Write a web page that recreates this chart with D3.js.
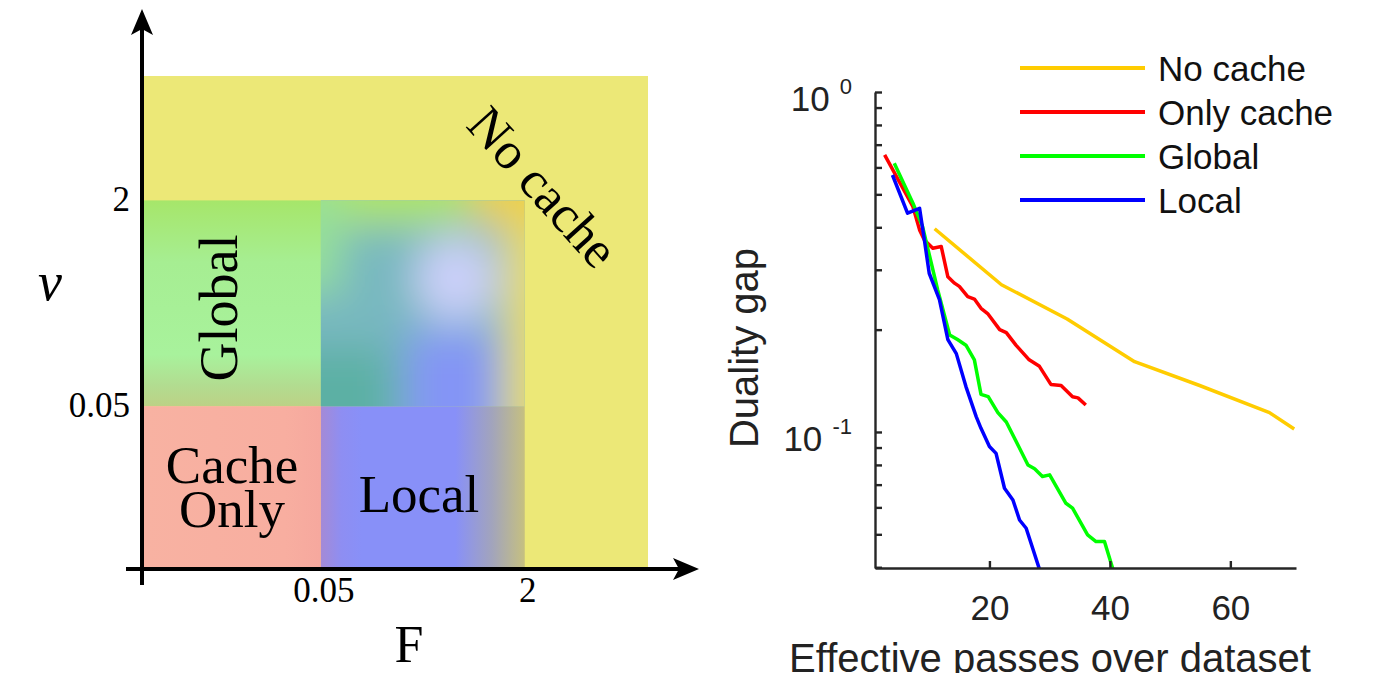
<!DOCTYPE html>
<html>
<head>
<meta charset="utf-8">
<script src="https://cdn.jsdelivr.net/npm/d3@7"></script>
<style>
body { margin: 0; background: #fff; }
svg { display: block; }
</style>
</head>
<body>
<svg id="chart" width="1394" height="673"></svg>
<script>
// ---- left panel: which strategy wins, by F and nu ----
const thresholdValues = [0.05, 2];
const thresholdLabels = ["0.05", "2"];
const fExtent = [0.002, 18.6];
const nuExtent = [0.0027, 18.6];
const regionNames = ["No cache", "Global", "Cache Only", "Local", "Mixed"];
const regionF = [[0.002, 18.6], [0.002, 0.05], [0.002, 0.05], [0.05, 2], [0.05, 2]];
const regionNu = [[0.0027, 18.6], [0.05, 2], [0.0027, 0.05], [0.0027, 0.05], [0.05, 2]];

// ---- right panel: duality gap vs effective passes ----
const seriesNames = ["No cache", "Only cache", "Global", "Local"];
const passesNoCache = [10.9, 22.0, 32.9, 44.1, 54.9, 66.5, 70.6];
const gapNoCache = [0.396, 0.271, 0.215, 0.161, 0.137, 0.114, 0.102];
const passesOnlyCache = [2.6, 7.3, 8.4, 9.2, 10.6, 12.0, 13.1, 14.2, 15.0, 16.4, 17.5, 18.6, 19.7, 21.7, 22.8, 24.4, 26.6, 28.3, 30.2, 31.9, 33.8, 34.7, 36.0];
const gapOnlyCache = [0.653, 0.460, 0.393, 0.367, 0.347, 0.351, 0.286, 0.274, 0.268, 0.250, 0.246, 0.231, 0.223, 0.200, 0.196, 0.180, 0.163, 0.156, 0.138, 0.137, 0.127, 0.126, 0.120];
const passesGlobal = [4.2, 7.3, 8.9, 11.4, 13.4, 14.7, 16.1, 17.5, 18.6, 19.8, 21.4, 22.8, 26.4, 27.5, 28.8, 30.0, 32.7, 33.8, 36.3, 37.7, 39.1, 40.5];
const gapGlobal = [0.617, 0.471, 0.402, 0.262, 0.193, 0.187, 0.180, 0.163, 0.129, 0.127, 0.114, 0.107, 0.080, 0.078, 0.074, 0.0748, 0.0617, 0.0597, 0.0498, 0.0476, 0.0476, 0.0395];
const passesLocal = [3.9, 6.4, 8.4, 9.2, 10.0, 11.7, 13.1, 14.5, 16.1, 17.8, 18.6, 20.0, 21.1, 22.5, 23.9, 25.0, 26.1, 28.3];
const gapLocal = [0.570, 0.440, 0.455, 0.367, 0.293, 0.245, 0.187, 0.170, 0.136, 0.111, 0.1025, 0.0906, 0.0865, 0.0683, 0.0631, 0.0551, 0.0521, 0.0395];
const xTicks = [20, 40, 60];
const yMajorTicks = [1, 0.1];
const yMajorExp = ["0", "-1"];
const yMinorTicks = [0.9, 0.8, 0.7, 0.6, 0.5, 0.4, 0.3, 0.2, 0.09, 0.08, 0.07, 0.06, 0.05, 0.04];

const svg = d3.select("#chart");
const defs = svg.append("defs");
const serif = "'Liberation Serif', 'DejaVu Serif', serif";
const sans = "'Liberation Sans', Arial, sans-serif";

// ================= left panel =================
const xL = d3.scaleLog().domain(fExtent).range([143, 648]);
const yL = d3.scaleLog().domain(nuExtent).range([569, 76]);

function grad(id, stops, vertical) {
    const g = defs.append("linearGradient").attr("id", id)
        .attr("x1", 0).attr("y1", 0)
        .attr("x2", vertical ? 0 : 1).attr("y2", vertical ? 1 : 0);
    stops.forEach(s => g.append("stop").attr("offset", s[0]).attr("stop-color", s[1]));
    return "url(#" + id + ")";
}

const regionFill = {
    "No cache": "#ece877",
    "Global": grad("gGlobal", [[0, "#a6e66a"], [0.3, "#a6ee92"], [0.75, "#a8f29c"], [0.9, "#b2dc90"], [1, "#bcd286"]], true),
    "Cache Only": grad("gCache", [[0, "#f8b2a2"], [0.8, "#f8aea0"], [1, "#f6a89e"]], false),
    "Local": grad("gLocal", [[0, "#a48ad6"], [0.1, "#8e8ef2"], [0.2, "#8890f8"], [0.66, "#8890f8"], [0.84, "#a2a4bc"], [1, "#c6c080"]], false),
    "Mixed": "#78b8c0"
};

const regionData = regionNames.map((name, i) => ({ name: name, f: regionF[i], nu: regionNu[i] }));

const left = svg.append("g");
left.selectAll("rect.region")
    .data(regionData)
    .join("rect")
    .attr("class", "region")
    .attr("x", d => xL(d.f[0]))
    .attr("y", d => yL(d.nu[1]))
    .attr("width", d => xL(d.f[1]) - xL(d.f[0]))
    .attr("height", d => yL(d.nu[0]) - yL(d.nu[1]))
    .attr("fill", d => regionFill[d.name]);

// soft blending inside the mixed (F, nu both intermediate) cell
const mixed = regionData[4];
const mx0 = xL(mixed.f[0]), mx1 = xL(mixed.f[1]);
const my0 = yL(mixed.nu[1]), my1 = yL(mixed.nu[0]);
const mw = mx1 - mx0, mh = my1 - my0;

defs.append("clipPath").attr("id", "mixClip")
    .append("rect").attr("x", mx0).attr("y", my0).attr("width", mw).attr("height", mh);
const blur = defs.append("filter").attr("id", "soft")
    .attr("filterUnits", "userSpaceOnUse")
    .attr("x", mx0 - 150).attr("y", my0 - 150).attr("width", mw + 300).attr("height", mh + 300);
blur.append("feGaussianBlur").attr("stdDeviation", 20);

const mix = left.append("g").attr("clip-path", "url(#mixClip)")
    .append("g").attr("filter", "url(#soft)");
const blob = (x0, y0, x1, y1, c) => mix.append("rect")
    .attr("x", mx0 + x0 * mw).attr("y", my0 + y0 * mh)
    .attr("width", (x1 - x0) * mw).attr("height", (y1 - y0) * mh).attr("fill", c);
blob(-0.4, -0.4, 1.4, 1.4, "#78b8c0");
blob(-0.4, -0.4, 0.72, 0.12, "#aee46a");
blob(-0.4, -0.1, 0.1, 0.45, "#96e098");
blob(-0.4, 0.72, 0.36, 1.4, "#5cb0a4");
blob(0.42, 0.64, 0.86, 1.4, "#8494f6");
blob(0.9, -0.4, 1.4, 1.4, "#e6da6c");
blob(0.74, -0.4, 1.4, 0.12, "#ecd04e");
mix.append("ellipse").attr("cx", mx0 + mw * 0.66).attr("cy", my0 + mh * 0.38)
    .attr("rx", mw * 0.2).attr("ry", mh * 0.21).attr("fill", "#ccd0fa");

// axes with arrows
const axX = yL(nuExtent[0]), axY = xL(fExtent[0]) - 1;
left.append("line").attr("x1", axY - 16).attr("x2", 690).attr("y1", axX).attr("y2", axX)
    .attr("stroke", "#000").attr("stroke-width", 4);
left.append("line").attr("x1", axY).attr("x2", axY).attr("y1", axX + 16).attr("y2", 20)
    .attr("stroke", "#000").attr("stroke-width", 4);
left.append("path")
    .attr("d", `M699,${axX} L673,${axX - 11} L679,${axX} L673,${axX + 11} Z`)
    .attr("fill", "#000");
left.append("path")
    .attr("d", `M${axY},9 L${axY - 11},35 L${axY},29 L${axY + 11},35 Z`)
    .attr("fill", "#000");

// threshold labels
left.selectAll("text.xth")
    .data(thresholdValues)
    .join("text")
    .attr("class", "xth")
    .attr("x", d => xL(d) + 3)
    .attr("y", 602)
    .attr("text-anchor", "middle")
    .attr("font-family", serif).attr("font-size", 35)
    .text((d, i) => thresholdLabels[i]);
left.selectAll("text.yth")
    .data(thresholdValues)
    .join("text")
    .attr("class", "yth")
    .attr("x", 130)
    .attr("y", d => yL(d) + 11)
    .attr("text-anchor", "end")
    .attr("font-family", serif).attr("font-size", 35)
    .text((d, i) => thresholdLabels[i]);

left.append("text").attr("x", 409).attr("y", 662).attr("text-anchor", "middle")
    .attr("font-family", serif).attr("font-size", 52).text("F");
left.append("text").attr("x", 50).attr("y", 300).attr("text-anchor", "middle")
    .attr("font-family", serif).attr("font-style", "italic").attr("font-size", 54).text("ν");

// region labels
left.append("text").attr("transform", "translate(237,308) rotate(-90)").attr("text-anchor", "middle")
    .attr("font-family", serif).attr("font-size", 54).text("Global");
const co = left.append("text").attr("text-anchor", "middle")
    .attr("font-family", serif).attr("font-size", 53);
co.append("tspan").attr("x", 232).attr("y", 483).text("Cache");
co.append("tspan").attr("x", 232).attr("y", 527).text("Only");
left.append("text").attr("x", 419).attr("y", 512).attr("text-anchor", "middle")
    .attr("font-family", serif).attr("font-size", 53).text("Local");
left.append("text").attr("transform", "translate(543,187) rotate(48)").attr("text-anchor", "middle")
    .attr("dominant-baseline", "central")
    .attr("font-family", serif).attr("font-size", 52).text("No cache");

// ================= right panel =================
const xR = d3.scaleLinear().domain([1, 70.9]).range([875, 1296]);
const yR = d3.scaleLog().domain([0.0398, 1]).range([568, 92]);
const axisColor = "#262626";

defs.append("clipPath").attr("id", "plotClip")
    .append("rect").attr("x", 875).attr("y", 80).attr("width", 425).attr("height", 488);

const right = svg.append("g");

const seriesData = [
    { name: seriesNames[0], color: "#ffcc00", pts: d3.zip(passesNoCache, gapNoCache) },
    { name: seriesNames[1], color: "#ff0000", pts: d3.zip(passesOnlyCache, gapOnlyCache) },
    { name: seriesNames[2], color: "#00ff00", pts: d3.zip(passesGlobal, gapGlobal) },
    { name: seriesNames[3], color: "#0000ff", pts: d3.zip(passesLocal, gapLocal) }
];

const line = d3.line().x(d => xR(d[0])).y(d => yR(d[1]));

right.append("g").attr("clip-path", "url(#plotClip)")
    .selectAll("path")
    .data(seriesData)
    .join("path")
    .attr("d", d => line(d.pts))
    .attr("fill", "none")
    .attr("stroke", d => d.color)
    .attr("stroke-width", 3.5)
    .attr("stroke-linejoin", "round");

// y axis: minor ticks + major ticks, ticks pointing inward
const yAxis = right.append("g").attr("transform", "translate(875,0)")
    .call(d3.axisLeft(yR).tickValues(yMajorTicks.concat(yMinorTicks)).tickSize(-7).tickSizeOuter(0).tickFormat(""));
yAxis.select(".domain").attr("stroke", axisColor).attr("stroke-width", 2.4);
yAxis.selectAll(".tick line").attr("stroke", axisColor).attr("stroke-width", 2.4);

const yLab = right.selectAll("text.ylab")
    .data(yMajorTicks)
    .join("text")
    .attr("class", "ylab")
    .attr("x", 852)
    .attr("y", d => yR(d) + 19)
    .attr("text-anchor", "end")
    .attr("font-family", sans).attr("font-size", 35).attr("fill", "#222");
yLab.append("tspan").text("10");
yLab.append("tspan").attr("dx", 4).attr("dy", -17).attr("font-size", 22).text((d, i) => " " + yMajorExp[i]);

// x axis
const xAxis = right.append("g").attr("transform", "translate(0,568)")
    .call(d3.axisBottom(xR).tickValues(xTicks).tickSize(-7).tickSizeOuter(0).tickPadding(27));
xAxis.select(".domain").attr("stroke", axisColor).attr("stroke-width", 2.4);
xAxis.selectAll(".tick text").attr("font-family", sans).attr("font-size", 35).attr("fill", "#222");
xAxis.selectAll(".tick line").attr("stroke", axisColor).attr("stroke-width", 2.4);

right.append("text").attr("transform", "translate(758,348) rotate(-90)").attr("text-anchor", "middle")
    .attr("font-family", sans).attr("font-size", 40).attr("fill", "#222").text("Duality gap");
right.append("text").attr("x", 1050).attr("y", 672).attr("text-anchor", "middle")
    .attr("font-family", sans).attr("font-size", 40).attr("fill", "#222").text("Effective passes over dataset");

// legend
const leg = right.selectAll("g.leg")
    .data(seriesData)
    .join("g")
    .attr("class", "leg")
    .attr("transform", (d, i) => `translate(1020,${68 + i * 44})`);
leg.append("line").attr("x1", 0).attr("x2", 125).attr("y1", 0).attr("y2", 0)
    .attr("stroke", d => d.color).attr("stroke-width", 4);
leg.append("text").attr("x", 138).attr("y", 0).attr("dy", "0.36em")
    .attr("font-family", sans).attr("font-size", 35).attr("fill", "#111")
    .text(d => d.name);
</script>
</body>
</html>
